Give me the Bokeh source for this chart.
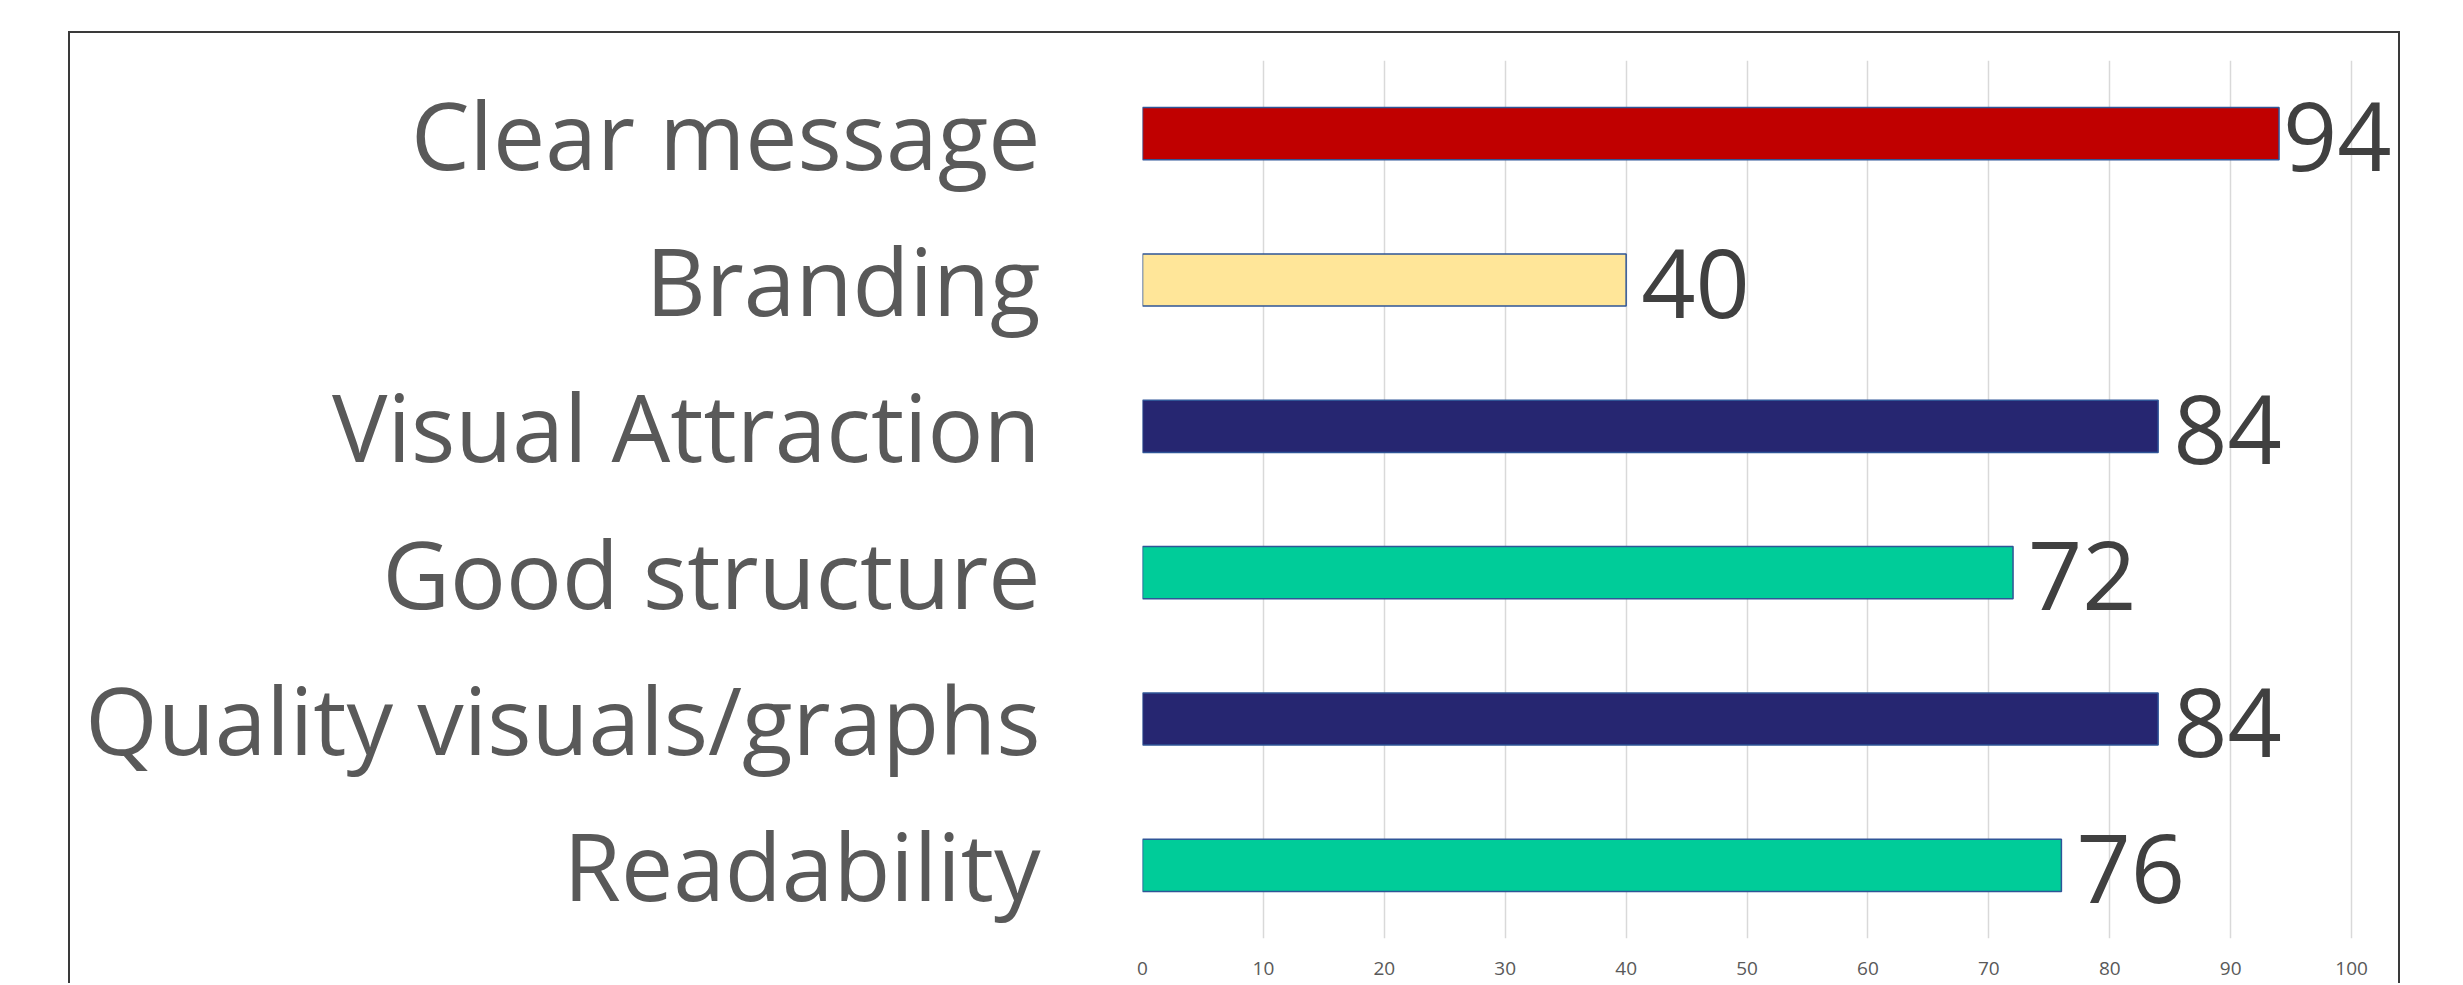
from bokeh.plotting import figure
from bokeh.models import ColumnDataSource, FixedTicker
from bokeh.core.properties import value
from bokeh.embed import file_html
from bokeh.resources import INLINE

categories = ["Clear message", "Branding", "Visual Attraction", "Good structure",
              "Quality visuals/graphs", "Readability"]
scores = [94, 40, 84, 72, 84, 76]
bar_colors = ["#C00000", "#FFE699", "#262671", "#00CC99", "#262671", "#00CC99"]
x_ticks = [0, 10, 20, 30, 40, 50, 60, 70, 80, 90, 100]

# labels near the right edge of the chart are pulled in closer to their bar
label_offsets = [4 if v > 90 else 15 for v in scores]

src = ColumnDataSource(dict(cat=categories, val=scores, col=bar_colors,
                            lab=[str(v) for v in scores], off=label_offsets))

p = figure(y_range=list(reversed(categories)), x_range=(0, 103.88),
           width=2332, height=952, output_backend="svg", toolbar_location=None,
           min_border_left=1072, min_border_right=4, min_border_top=27,
           min_border_bottom=47)
p.margin = (31, 0, 0, 68)
p.styles = {"border-top": "2px solid #3a3a3a", "border-left": "2px solid #3a3a3a",
            "border-right": "2px solid #3a3a3a", "box-sizing": "border-box"}
p.outline_line_color = None
p.background_fill_color = "white"
p.border_fill_color = "white"

p.hbar(y="cat", right="val", left=0, height=0.356, source=src,
       fill_color="col", line_color="#2F5597", line_width=1.5)

p.text(x="val", y="cat", text="lab", source=src, x_offset="off", y_offset=3,
       text_font=value("Open Sans"), text_font_size="95px",
       text_color="#404040", text_baseline="middle", text_align="left")

p.xaxis.ticker = FixedTicker(ticks=x_ticks)
p.xaxis.axis_line_color = None
p.xaxis.major_tick_line_color = None
p.xaxis.minor_tick_line_color = None
p.xaxis.major_tick_out = 0
p.xaxis.major_label_standoff = 23
p.xaxis.major_label_text_font = "Open Sans"
p.xaxis.major_label_text_font_size = "19px"
p.xaxis.major_label_text_color = "#595959"

p.yaxis.axis_line_color = None
p.yaxis.major_tick_line_color = None
p.yaxis.major_tick_out = 0
p.yaxis.major_label_standoff = 102
p.yaxis.major_label_text_font = "Open Sans"
p.yaxis.major_label_text_font_size = "93px"
p.yaxis.major_label_text_color = "#595959"

p.xgrid.grid_line_color = "#D9D9D9"
p.xgrid.grid_line_width = 1.5
p.ygrid.grid_line_color = None

open("out.html", "w").write(file_html(p, INLINE))
